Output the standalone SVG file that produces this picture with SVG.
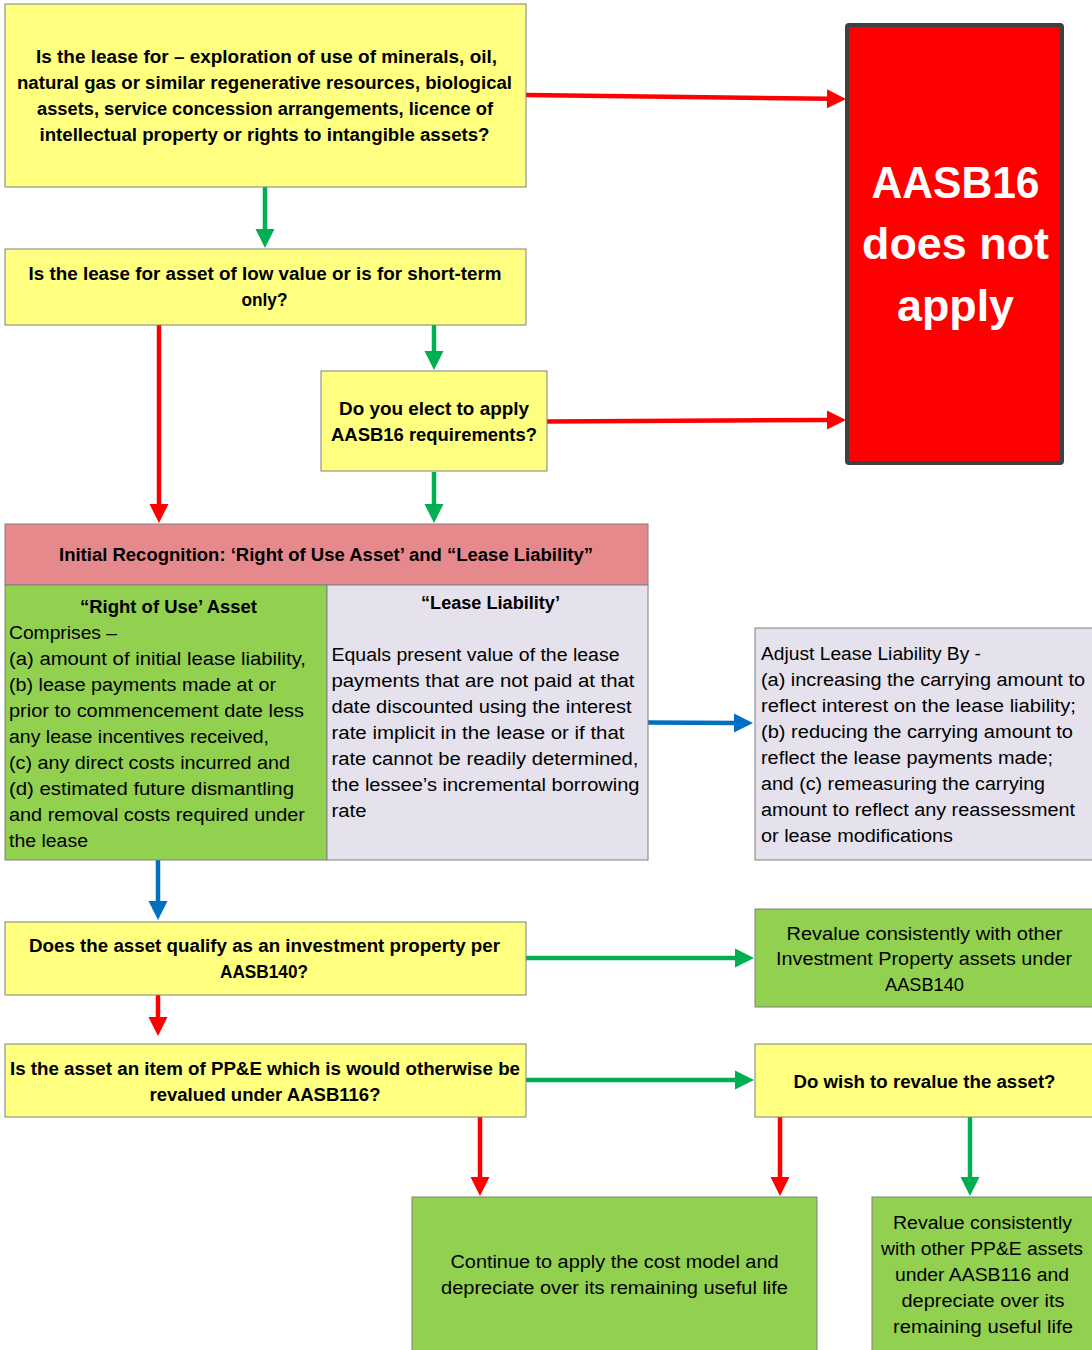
<svg xmlns="http://www.w3.org/2000/svg" width="1092" height="1350" viewBox="0 0 1092 1350">
  <style>
    .box { stroke: #808080; stroke-width: 1; }
    .yellow { fill: #FFFF80; }
    .green { fill: #92D050; }
    .lav { fill: #E5E2ED; }
    .pink { fill: #E6898D; }
    text { font-family: "Liberation Sans", Arial, sans-serif; fill: #000; }
    .b { font-size: 18px; font-weight: bold; }
    .n { font-size: 18px; }
    .m { text-anchor: middle; }
    .big { font-size: 44px; font-weight: bold; fill: #FFFFFF; text-anchor: middle; }
    .conn { fill: none; stroke-width: 4.5; }
    .red { stroke: #FF0000; }
    .grn { stroke: #00B050; }
    .blu { stroke: #0070C0; }
  </style>
  <defs>
    <marker id="ah-red" markerUnits="userSpaceOnUse" markerWidth="20" markerHeight="20" viewBox="0 -10 20 20" refX="1" refY="0" orient="auto">
      <path d="M0,-9.5 L19,0 L0,9.5 Z" fill="#FF0000"/>
    </marker>
    <marker id="ah-grn" markerUnits="userSpaceOnUse" markerWidth="20" markerHeight="20" viewBox="0 -10 20 20" refX="1" refY="0" orient="auto">
      <path d="M0,-9.5 L19,0 L0,9.5 Z" fill="#00B050"/>
    </marker>
    <marker id="ah-blu" markerUnits="userSpaceOnUse" markerWidth="20" markerHeight="20" viewBox="0 -10 20 20" refX="1" refY="0" orient="auto">
      <path d="M0,-9.5 L19,0 L0,9.5 Z" fill="#0070C0"/>
    </marker>
  </defs>

  <rect width="1092" height="1350" fill="#FFFFFF"/>

  <!-- connectors -->
  <g id="connectors">
    <path class="conn red" d="M526,95 L828,98.8" marker-end="url(#ah-red)"/>
    <path class="conn grn" d="M265,187 V230" marker-end="url(#ah-grn)"/>
    <path class="conn red" d="M159,323 V505" marker-end="url(#ah-red)"/>
    <path class="conn grn" d="M434,325 V352" marker-end="url(#ah-grn)"/>
    <path class="conn red" d="M547,421.5 L828,420" marker-end="url(#ah-red)"/>
    <path class="conn grn" d="M434,472 V505" marker-end="url(#ah-grn)"/>
    <path class="conn blu" d="M648,722.5 L735,723" marker-end="url(#ah-blu)"/>
    <path class="conn blu" d="M158,860 V902" marker-end="url(#ah-blu)"/>
    <path class="conn grn" d="M526,958 L736,958" marker-end="url(#ah-grn)"/>
    <path class="conn red" d="M158,995 V1018" marker-end="url(#ah-red)"/>
    <path class="conn grn" d="M526,1080 L736,1080" marker-end="url(#ah-grn)"/>
    <path class="conn red" d="M480,1117 V1178" marker-end="url(#ah-red)"/>
    <path class="conn red" d="M780,1117 V1178" marker-end="url(#ah-red)"/>
    <path class="conn grn" d="M970,1117 V1178" marker-end="url(#ah-grn)"/>
  </g>

  <!-- scope question -->
  <g id="q-scope">
    <rect class="box yellow" x="5" y="4" width="521" height="183"/>
    <text class="b m" x="266.5" y="63" textLength="461" lengthAdjust="spacingAndGlyphs">Is the lease for – exploration of use of minerals, oil,</text>
    <text class="b m" x="264.5" y="89" textLength="495" lengthAdjust="spacingAndGlyphs">natural gas or similar regenerative resources, biological</text>
    <text class="b m" x="265" y="115" textLength="456" lengthAdjust="spacingAndGlyphs">assets, service concession arrangements, licence of</text>
    <text class="b m" x="264.5" y="141" textLength="450" lengthAdjust="spacingAndGlyphs">intellectual property or rights to intangible assets?</text>
  </g>

  <!-- not applicable outcome -->
  <g id="not-apply">
    <rect x="847" y="25" width="215" height="438" rx="2" fill="#FF0000" stroke="#404040" stroke-width="4"/>
    <text class="big" x="955.5" y="198" textLength="168" lengthAdjust="spacingAndGlyphs">AASB16</text>
    <text class="big" x="955.5" y="259" textLength="187" lengthAdjust="spacingAndGlyphs">does not</text>
    <text class="big" x="955.5" y="321" textLength="117" lengthAdjust="spacingAndGlyphs">apply</text>
  </g>

  <!-- low value / short-term question -->
  <g id="q-low-value">
    <rect class="box yellow" x="5" y="249" width="521" height="76"/>
    <text class="b m" x="265" y="280" textLength="473" lengthAdjust="spacingAndGlyphs">Is the lease for asset of low value or is for short-term</text>
    <text class="b m" x="264.5" y="306" textLength="46" lengthAdjust="spacingAndGlyphs">only?</text>
  </g>

  <!-- election question -->
  <g id="q-elect">
    <rect class="box yellow" x="321" y="371" width="226" height="100"/>
    <text class="b m" x="434" y="415" textLength="190" lengthAdjust="spacingAndGlyphs">Do you elect to apply</text>
    <text class="b m" x="434" y="441" textLength="206" lengthAdjust="spacingAndGlyphs">AASB16 requirements?</text>
  </g>

  <!-- initial recognition table -->
  <g id="initial-recognition">
    <rect class="box pink" x="5" y="524" width="643" height="61"/>
    <text class="b m" x="326" y="561" textLength="534" lengthAdjust="spacingAndGlyphs">Initial Recognition: ‘Right of Use Asset’ and “Lease Liability”</text>
  </g>

  <g id="rou-asset">
    <rect class="box green" x="5" y="585" width="322" height="275"/>
    <text class="b m" x="168.5" y="613" textLength="177" lengthAdjust="spacingAndGlyphs">“Right of Use’ Asset</text>
    <text class="n" x="9" y="639" textLength="108" lengthAdjust="spacingAndGlyphs">Comprises –</text>
    <text class="n" x="9" y="665" textLength="297" lengthAdjust="spacingAndGlyphs">(a) amount of initial lease liability,</text>
    <text class="n" x="9" y="691" textLength="267" lengthAdjust="spacingAndGlyphs">(b) lease payments made at or</text>
    <text class="n" x="9" y="717" textLength="295" lengthAdjust="spacingAndGlyphs">prior to commencement date less</text>
    <text class="n" x="9" y="743" textLength="260" lengthAdjust="spacingAndGlyphs">any lease incentives received,</text>
    <text class="n" x="9" y="769" textLength="281" lengthAdjust="spacingAndGlyphs">(c) any direct costs incurred and</text>
    <text class="n" x="9" y="795" textLength="285" lengthAdjust="spacingAndGlyphs">(d) estimated future dismantling</text>
    <text class="n" x="9" y="821" textLength="296" lengthAdjust="spacingAndGlyphs">and removal costs required under</text>
    <text class="n" x="9" y="847" textLength="79" lengthAdjust="spacingAndGlyphs">the lease</text>
  </g>

  <g id="lease-liability">
    <rect class="box lav" x="327" y="585" width="321" height="275"/>
    <text class="b m" x="490.5" y="609" textLength="139" lengthAdjust="spacingAndGlyphs">“Lease Liability’</text>
    <text class="n" x="331.5" y="661" textLength="288" lengthAdjust="spacingAndGlyphs">Equals present value of the lease</text>
    <text class="n" x="331.5" y="687" textLength="303" lengthAdjust="spacingAndGlyphs">payments that are not paid at that</text>
    <text class="n" x="331.5" y="713" textLength="300" lengthAdjust="spacingAndGlyphs">date discounted using the interest</text>
    <text class="n" x="331.5" y="739" textLength="293" lengthAdjust="spacingAndGlyphs">rate implicit in the lease or if that</text>
    <text class="n" x="331.5" y="765" textLength="307" lengthAdjust="spacingAndGlyphs">rate cannot be readily determined,</text>
    <text class="n" x="331.5" y="791" textLength="308" lengthAdjust="spacingAndGlyphs">the lessee’s incremental borrowing</text>
    <text class="n" x="331.5" y="817" textLength="35" lengthAdjust="spacingAndGlyphs">rate</text>
  </g>

  <!-- subsequent measurement of liability -->
  <g id="adjust-liability">
    <rect class="box lav" x="755" y="628" width="345" height="232"/>
    <text class="n" x="761" y="660" textLength="220" lengthAdjust="spacingAndGlyphs">Adjust Lease Liability By -</text>
    <text class="n" x="761" y="686" textLength="324" lengthAdjust="spacingAndGlyphs">(a) increasing the carrying amount to</text>
    <text class="n" x="761" y="712" textLength="315" lengthAdjust="spacingAndGlyphs">reflect interest on the lease liability;</text>
    <text class="n" x="761" y="738" textLength="312" lengthAdjust="spacingAndGlyphs">(b) reducing the carrying amount to</text>
    <text class="n" x="761" y="764" textLength="292" lengthAdjust="spacingAndGlyphs">reflect the lease payments made;</text>
    <text class="n" x="761" y="790" textLength="284" lengthAdjust="spacingAndGlyphs">and (c) remeasuring the carrying</text>
    <text class="n" x="761" y="816" textLength="314" lengthAdjust="spacingAndGlyphs">amount to reflect any reassessment</text>
    <text class="n" x="761" y="842" textLength="192" lengthAdjust="spacingAndGlyphs">or lease modifications</text>
  </g>

  <!-- investment property question -->
  <g id="q-investment">
    <rect class="box yellow" x="5" y="922" width="521" height="73"/>
    <text class="b m" x="264.5" y="952" textLength="471" lengthAdjust="spacingAndGlyphs">Does the asset qualify as an investment property per</text>
    <text class="b m" x="264" y="978" textLength="88" lengthAdjust="spacingAndGlyphs">AASB140?</text>
  </g>

  <g id="revalue-ip">
    <rect class="box green" x="755" y="909" width="345" height="98"/>
    <text class="n m" x="924.5" y="940" textLength="276" lengthAdjust="spacingAndGlyphs">Revalue consistently with other</text>
    <text class="n m" x="924" y="965" textLength="296" lengthAdjust="spacingAndGlyphs">Investment Property assets under</text>
    <text class="n m" x="924.5" y="991" textLength="79" lengthAdjust="spacingAndGlyphs">AASB140</text>
  </g>

  <!-- PP&E question -->
  <g id="q-ppe">
    <rect class="box yellow" x="5" y="1044" width="521" height="73"/>
    <text class="b m" x="265" y="1075" textLength="510" lengthAdjust="spacingAndGlyphs">Is the asset an item of PP&amp;E which is would otherwise be</text>
    <text class="b m" x="265" y="1101" textLength="231" lengthAdjust="spacingAndGlyphs">revalued under AASB116?</text>
  </g>

  <g id="q-revalue">
    <rect class="box yellow" x="755" y="1044" width="345" height="73"/>
    <text class="b m" x="924.5" y="1088" textLength="262" lengthAdjust="spacingAndGlyphs">Do wish to revalue the asset?</text>
  </g>

  <!-- outcomes -->
  <g id="cost-model">
    <rect class="box green" x="412" y="1197" width="405" height="165"/>
    <text class="n m" x="614.5" y="1268" textLength="328" lengthAdjust="spacingAndGlyphs">Continue to apply the cost model and</text>
    <text class="n m" x="614.5" y="1294" textLength="347" lengthAdjust="spacingAndGlyphs">depreciate over its remaining useful life</text>
  </g>

  <g id="revalue-ppe">
    <rect class="box green" x="872" y="1197" width="230" height="165"/>
    <text class="n m" x="982.5" y="1229" textLength="179" lengthAdjust="spacingAndGlyphs">Revalue consistently</text>
    <text class="n m" x="982" y="1255" textLength="202" lengthAdjust="spacingAndGlyphs">with other PP&amp;E assets</text>
    <text class="n m" x="982" y="1281" textLength="174" lengthAdjust="spacingAndGlyphs">under AASB116 and</text>
    <text class="n m" x="983" y="1307" textLength="163" lengthAdjust="spacingAndGlyphs">depreciate over its</text>
    <text class="n m" x="983" y="1333" textLength="180" lengthAdjust="spacingAndGlyphs">remaining useful life</text>
  </g>
</svg>
